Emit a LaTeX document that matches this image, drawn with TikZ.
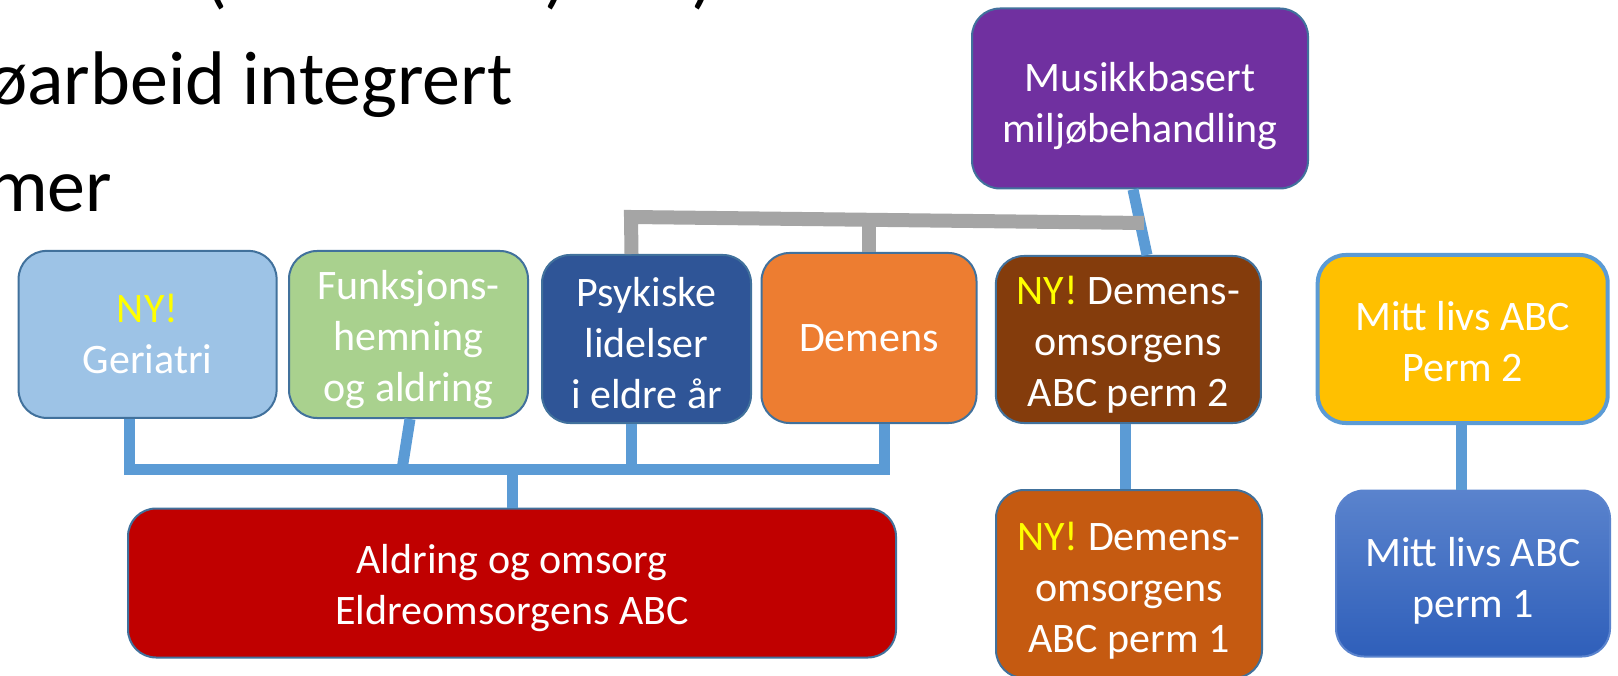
\documentclass[tikz,border=0pt]{standalone}
\usepackage{fontspec}
\setmainfont{Carlito}

\definecolor{geri}{HTML}{9DC3E6}
\definecolor{funk}{HTML}{A9D18E}
\definecolor{psyk}{HTML}{2F5597}
\definecolor{dem}{HTML}{ED7D31}
\definecolor{brun}{HTML}{843C0C}
\definecolor{gul}{HTML}{FFC000}
\definecolor{lilla}{HTML}{7030A0}
\definecolor{rod}{HTML}{C00000}
\definecolor{oransje}{HTML}{C55A11}
\definecolor{blatopp}{HTML}{5A83CD}
\definecolor{blabunn}{HTML}{2F5FBA}
\definecolor{kant}{HTML}{41719C}
\definecolor{linjebla}{HTML}{5B9BD5}
\definecolor{linjegra}{HTML}{A5A5A5}
\definecolor{ny}{HTML}{FFFF00}

\tikzset{
  boks/.style={draw=kant, line width=2pt, rounded corners=28pt, align=center,
    text=white, inner sep=0pt, font=\fontsize{42}{51}\selectfont},
  bla/.style={draw=linjebla, line width=11pt},
  gra/.style={draw=linjegra, line width=14pt},
  lysbit/.style={inner sep=0pt, font=\fontsize{76}{90}\selectfont}
}
\newcommand{\nytt}{\textcolor{ny}{NY!}}
\newcommand{\hoy}[1]{\rule{0pt}{#1pt}}

\begin{document}
\begin{tikzpicture}[x=1pt,y=-1pt]
  \useasboundingbox (0,0) rectangle (1618,676);
  \clip (0,0) rectangle (1618,676);
  \fill[white] (0,0) rectangle (1618,676);

  \node[lysbit, anchor=base] (pa) at (216,0) {(};
  \node[lysbit, anchor=base] (pb) at (556,0) {)};
  \node[lysbit, anchor=base] (pc) at (703,0) {)};
  \node[lysbit, anchor=base west] (linje2) at (-13,105) {øarbeid integrert};
  \node[lysbit, anchor=base west] (linje3) at (-13,212) {mer};

  \node[boks, fill=geri, minimum width=258, minimum height=167] (geri) at (147.6,334.4) {\nytt\\Geriatri};
  \node[boks, fill=funk, minimum width=239, minimum height=167] (funk) at (408.5,334.5) {\hoy{40}Funksjons-\\hemning\\og aldring};
  \node[boks, fill=psyk, minimum width=209, minimum height=168] (psyk) at (646.5,339) {\hoy{38}Psykiske\\lidelser\\i eldre år};
  \node[boks, fill=dem, minimum width=215, minimum height=170] (dem) at (869,338) {Demens};
  \node[boks, fill=brun, minimum width=265, minimum height=167] (brun) at (1128.4,339.5) {\hoy{38}\nytt{} Demens-\\omsorgens\\ABC perm 2};
  \node[boks, fill=gul, draw=linjebla, line width=4pt, minimum width=290, minimum height=168] (gul) at (1462.7,339) {\hoy{34}Mitt livs ABC\\Perm 2};
  \node[boks, fill=lilla, minimum width=336, minimum height=180] (lilla) at (1140,98.5) {\hoy{44}Musikkbasert\\miljøbehandling};
  \node[boks, fill=rod, minimum width=768, minimum height=149] (rod) at (512,583) {\hoy{40}Aldring og omsorg\\Eldreomsorgens ABC};
  \node[boks, fill=oransje, minimum width=266, minimum height=188] (oransje) at (1129,584) {\hoy{42}\nytt{} Demens-\\omsorgens\\ABC perm 1};
  \node[boks, draw=blatopp, top color=blatopp, bottom color=blabunn, minimum width=274, minimum height=166] (blaa) at (1473,573.5) {\hoy{44}Mitt livs ABC\\perm 1};

  \coordinate (buss) at (512,469.5);
  \coordinate (fbuss) at (402,469.5);
  \coordinate (gv) at (631,217);
  \coordinate (gh) at (1144,223);
  \coordinate (gm) at (869,220);

  \draw[bla] ([xshift=-18.6]geri.south) |- ([xshift=15]dem.south |- buss) -- ([xshift=15]dem.south);
  \draw[bla] ([xshift=1.5]funk.south) -- (fbuss);
  \draw[bla] ([xshift=-15]psyk.south) -- ([xshift=-15]psyk.south |- buss);
  \draw[bla] (buss) -- (buss |- rod.north);
  \draw[bla] ([xshift=-3.4]brun.south) -- ([xshift=-3.4]brun.south |- oransje.north);
  \draw[bla] ([xshift=-1.7]gul.south) -- ([xshift=-1.7]gul.south |- blaa.north);
  \draw[bla] ([xshift=-7]lilla.south) -- ([xshift=18.6]brun.north);

  \draw[gra] ([xshift=-15]psyk.north) -- (gv) -- (gh);
  \draw[gra] (dem.north) -- (gm);
\end{tikzpicture}
\end{document}
